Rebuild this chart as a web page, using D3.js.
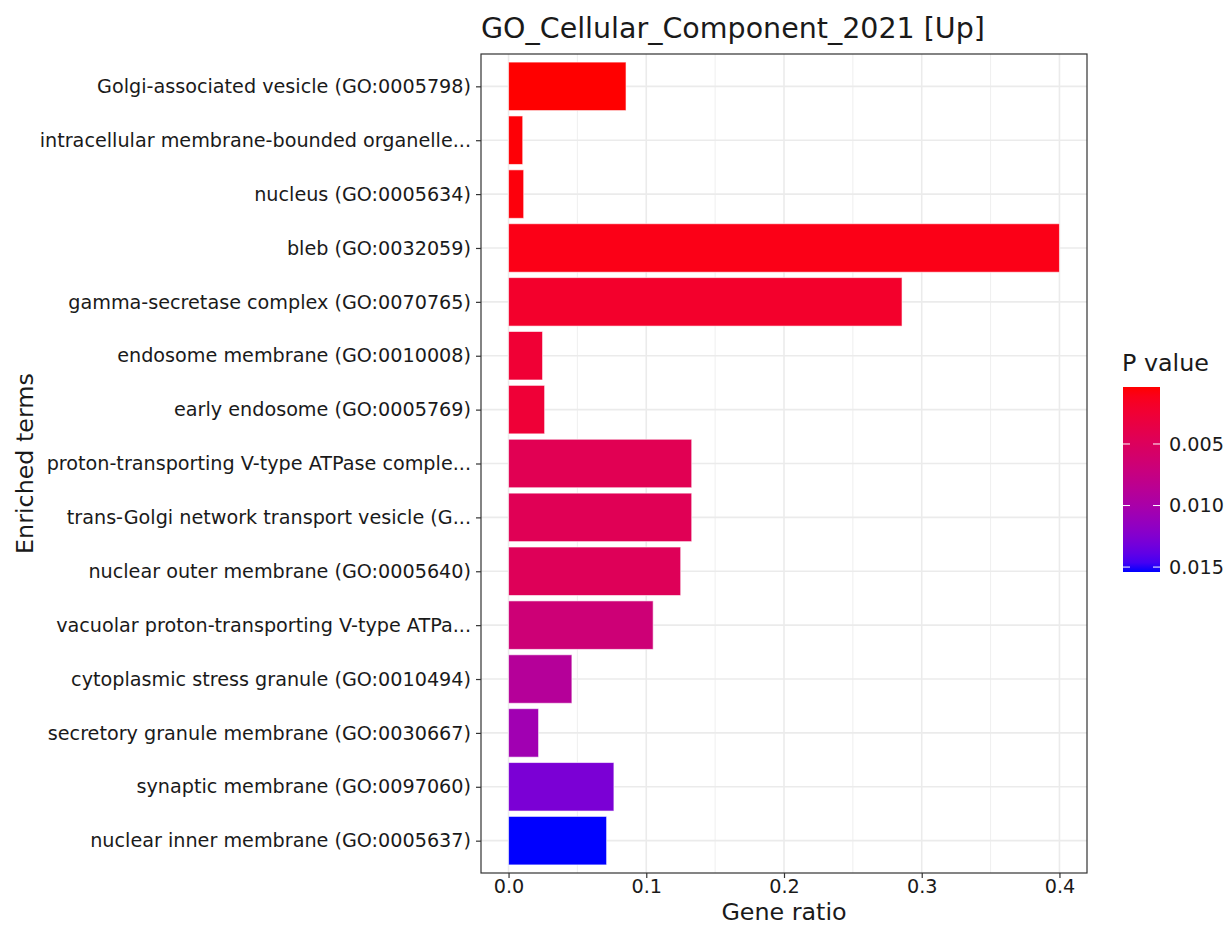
<!DOCTYPE html>
<html>
<head>
<meta charset="utf-8">
<script src="https://cdn.jsdelivr.net/npm/d3@7"></script>
<style>
  html, body { margin: 0; padding: 0; background: #fff; }
  text { font-family: "DejaVu Sans", sans-serif; }
</style>
</head>
<body>
<svg id="chart" width="1229" height="928"></svg>
<script>
// Enriched GO cellular component terms, top to bottom
const terms = [
  "Golgi-associated vesicle (GO:0005798)",
  "intracellular membrane-bounded organelle...",
  "nucleus (GO:0005634)",
  "bleb (GO:0032059)",
  "gamma-secretase complex (GO:0070765)",
  "endosome membrane (GO:0010008)",
  "early endosome (GO:0005769)",
  "proton-transporting V-type ATPase comple...",
  "trans-Golgi network transport vesicle (G...",
  "nuclear outer membrane (GO:0005640)",
  "vacuolar proton-transporting V-type ATPa...",
  "cytoplasmic stress granule (GO:0010494)",
  "secretory granule membrane (GO:0030667)",
  "synaptic membrane (GO:0097060)",
  "nuclear inner membrane (GO:0005637)"
];
const geneRatio = [0.0853, 0.0103, 0.0110, 0.4, 0.2857, 0.0247, 0.0262, 0.1330, 0.1330, 0.1250, 0.1050, 0.0460, 0.0218, 0.0765, 0.0712];
const pValue    = [0.00037, 0.00052, 0.00066, 0.0010, 0.0020, 0.0025, 0.0026, 0.0044, 0.0045, 0.0047, 0.0067, 0.0090, 0.0106, 0.0128, 0.0154];
const xTicks = [0, 0.1, 0.2, 0.3, 0.4];
const xMinor = [0.05, 0.15, 0.25, 0.35];
const legendTicks = [0.005, 0.010, 0.015];

const svg = d3.select("#chart");
const panel = { left: 481, right: 1087, top: 54, bottom: 873 };
const textCol = "#1a1a1a";
const tickFont = "19.2px";
const titleFont = "23.8px";

const x = d3.scaleLinear()
  .domain([-0.02, 0.42])
  .range([panel.left, panel.right]);
const y = d3.scalePoint()
  .domain(terms)
  .range([panel.top, panel.bottom])
  .padding(0.6);
const barH = y.step() * 0.9;

const pExtent = d3.extent(pValue);
const fill = d3.scaleLinear()
  .domain(pExtent)
  .range(["red", "blue"])
  .interpolate(d3.interpolateLab);

// grid
const grid = svg.append("g");
grid.selectAll(".minor").data(xMinor).join("line")
  .attr("x1", d => x(d)).attr("x2", d => x(d))
  .attr("y1", panel.top).attr("y2", panel.bottom)
  .attr("stroke", "#ebebeb").attr("stroke-width", 0.8);
grid.selectAll(".majx").data(xTicks).join("line")
  .attr("x1", d => x(d)).attr("x2", d => x(d))
  .attr("y1", panel.top).attr("y2", panel.bottom)
  .attr("stroke", "#ebebeb").attr("stroke-width", 1.6);
grid.selectAll(".majy").data(terms).join("line")
  .attr("x1", panel.left).attr("x2", panel.right)
  .attr("y1", d => y(d)).attr("y2", d => y(d))
  .attr("stroke", "#ebebeb").attr("stroke-width", 1.6);

// bars
svg.append("g").selectAll("rect").data(terms).join("rect")
  .attr("x", x(0))
  .attr("y", d => y(d) - barH / 2)
  .attr("width", (d, i) => x(geneRatio[i]) - x(0))
  .attr("height", barH)
  .attr("fill", (d, i) => fill(pValue[i]))
  .attr("stroke", "#ffffff")
  .attr("stroke-opacity", 0.6)
  .attr("stroke-width", 1);

// panel border
svg.append("rect")
  .attr("x", panel.left).attr("y", panel.top)
  .attr("width", panel.right - panel.left).attr("height", panel.bottom - panel.top)
  .attr("fill", "none").attr("stroke", "#333333").attr("stroke-width", 1.2);

// x axis
const xAxis = svg.append("g")
  .attr("transform", `translate(0,${panel.bottom})`)
  .call(d3.axisBottom(x).tickValues(xTicks).tickFormat(d3.format(".1f")).tickSize(5).tickPadding(1));
xAxis.select(".domain").remove();
xAxis.selectAll(".tick line").attr("stroke", "#333").attr("stroke-width", 1.2);
xAxis.selectAll(".tick text").attr("fill", textCol).style("font-size", tickFont)
  .style("font-family", "DejaVu Sans");

// y axis
const yAxis = svg.append("g")
  .attr("transform", `translate(${panel.left},0)`)
  .call(d3.axisLeft(y).tickSize(5).tickPadding(5));
yAxis.select(".domain").remove();
yAxis.selectAll(".tick line").attr("stroke", "#333").attr("stroke-width", 1.2);
yAxis.selectAll(".tick text").attr("fill", textCol).style("font-size", tickFont)
  .style("font-family", "DejaVu Sans");

// titles
svg.append("text")
  .attr("x", panel.left).attr("y", 38)
  .attr("fill", textCol).style("font-size", "28.5px")
  .text("GO_Cellular_Component_2021 [Up]");
svg.append("text")
  .attr("x", (panel.left + panel.right) / 2).attr("y", 920)
  .attr("text-anchor", "middle").attr("fill", textCol).style("font-size", titleFont)
  .text("Gene ratio");
svg.append("text")
  .attr("transform", `translate(33,${(panel.top + panel.bottom) / 2}) rotate(-90)`)
  .attr("text-anchor", "middle").attr("fill", textCol).style("font-size", titleFont)
  .text("Enriched terms");

// colour bar legend
const lg = { x: 1123, w: 37, top: 387, bottom: 572 };
const defs = svg.append("defs");
const grad = defs.append("linearGradient").attr("id", "pgrad")
  .attr("x1", 0).attr("x2", 0).attr("y1", 0).attr("y2", 1);
d3.range(0, 1.0001, 0.05).forEach(t => {
  grad.append("stop").attr("offset", t)
    .attr("stop-color", fill(pExtent[0] + t * (pExtent[1] - pExtent[0])));
});
const ly = d3.scaleLinear().domain(pExtent).range([lg.top, lg.bottom]);
svg.append("text")
  .attr("x", lg.x - 1).attr("y", 371)
  .attr("fill", textCol).style("font-size", titleFont)
  .text("P value");
svg.append("rect")
  .attr("x", lg.x).attr("y", lg.top).attr("width", lg.w).attr("height", lg.bottom - lg.top)
  .attr("fill", "url(#pgrad)");
const lt = svg.append("g").selectAll("g").data(legendTicks).join("g");
lt.append("line")
  .attr("x1", lg.x).attr("x2", lg.x + 7)
  .attr("y1", d => ly(d)).attr("y2", d => ly(d))
  .attr("stroke", "#fff").attr("stroke-width", 1);
lt.append("line")
  .attr("x1", lg.x + lg.w - 7).attr("x2", lg.x + lg.w)
  .attr("y1", d => ly(d)).attr("y2", d => ly(d))
  .attr("stroke", "#fff").attr("stroke-width", 1);
lt.append("text")
  .attr("x", lg.x + lg.w + 9).attr("y", d => ly(d))
  .attr("dy", "0.35em").attr("fill", textCol).style("font-size", tickFont)
  .text(d => d3.format(".3f")(d));
</script>
</body>
</html>
